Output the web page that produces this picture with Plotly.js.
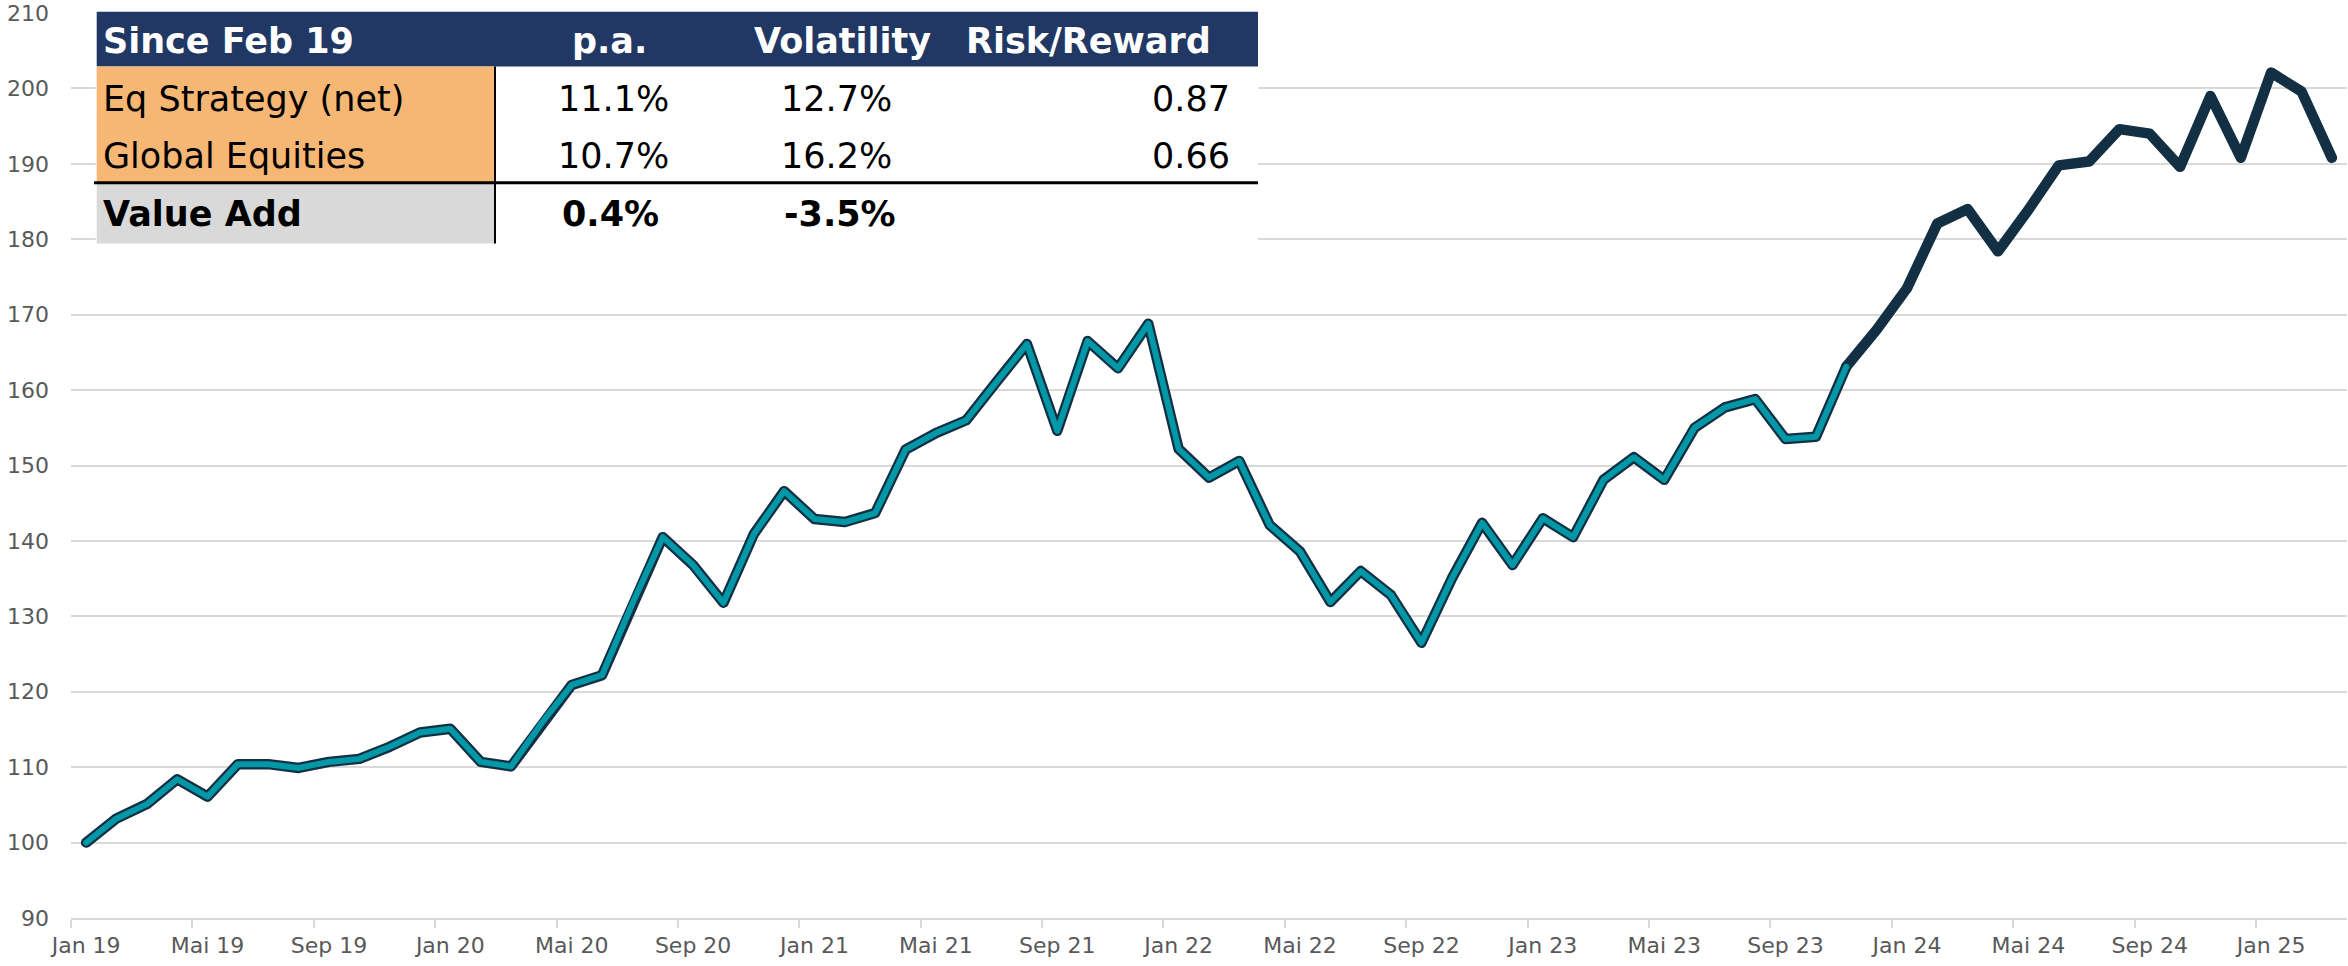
<!DOCTYPE html>
<html>
<head>
<meta charset="utf-8">
<script src="https://cdn.plot.ly/plotly-3.0.1.min.js"></script>
<style>
  html, body { margin: 0; padding: 0; background: #ffffff; }
  #chart { width: 2348px; height: 966px; }
</style>
</head>
<body>
<div id="chart"></div>
<script>
// ---------------- DATA ----------------
const monthNames = ['Jan','Feb','Mär','Apr','Mai','Jun','Jul','Aug','Sep','Okt','Nov','Dez'];
const startYear = 2019;
// Monthly index level, Jan 19 = 100 ... Mar 25
const indexValues = [
  100.0, 103.2, 105.1, 108.4, 106.1, 110.4, 110.4, 109.9, 110.7, 111.1, 112.7, 114.6,
  115.1, 110.7, 110.1, 115.8, 120.9, 122.2, 131.7, 140.5, 136.8, 131.8, 140.9, 146.6,
  142.9, 142.5, 143.7, 152.1, 154.3, 156.0, 161.1, 166.1, 154.6, 166.5, 162.9, 168.8,
  152.2, 148.4, 150.6, 142.1, 138.6, 131.9, 136.0, 132.8, 126.5, 135.0, 142.4, 136.8,
  143.0, 140.5, 148.1, 151.1, 148.1, 155.0, 157.7, 158.8, 153.5, 153.8, 163.1, 168.0,
  173.5, 182.1, 184.0, 178.4, 183.9, 189.8, 190.3, 194.6, 194.0, 189.6, 199.0, 190.8,
  202.1, 199.6, 190.8
];
const liveStartIndex = 58; // from here the line is drawn in dark navy

// Table contents
const tableHeader = ['Since Feb 19', 'p.a.', 'Volatility', 'Risk/Reward'];
const rowLabels = ['Eq Strategy (net)', 'Global Equities'];
const paValues = ['11.1%', '10.7%'];
const volValues = ['12.7%', '16.2%'];
const rrValues = ['0.87', '0.66'];
const valueAddLabel = 'Value Add';
const valueAddValues = ['0.4%', '-3.5%'];

// ---------------- BUILD ----------------
const months = indexValues.map((_, i) => {
  const m = i % 12;
  const y = startYear + Math.floor(i / 12);
  return monthNames[m] + ' ' + String(y % 100).padStart(2, '0');
});

const W = 2348, H = 966;
const M = { l: 71, r: 1, t: 13, b: 48 };
const PW = W - M.l - M.r, PH = H - M.t - M.b;
const px = v => (v - M.l) / PW;        // pixel x -> paper x
const py = v => 1 - (v - M.t) / PH;    // pixel y -> paper y

const NAVY = '#132f43';
const TEAL = '#0097a6';

const traces = [
  { // dark outline of the back-tested part
    x: months.slice(0, liveStartIndex + 1),
    y: indexValues.slice(0, liveStartIndex + 1),
    type: 'scatter', mode: 'lines',
    line: { color: NAVY, width: 10.5 },
    hoverinfo: 'skip', showlegend: false
  },
  { // dark live part
    x: months.slice(liveStartIndex),
    y: indexValues.slice(liveStartIndex),
    type: 'scatter', mode: 'lines',
    line: { color: NAVY, width: 10.5 },
    hoverinfo: 'skip', showlegend: false
  },
  { // teal inner line
    x: months.slice(0, liveStartIndex + 1),
    y: indexValues.slice(0, liveStartIndex + 1),
    type: 'scatter', mode: 'lines',
    line: { color: TEAL, width: 6 },
    hoverinfo: 'skip', showlegend: false
  }
];

// Table geometry (pixels)
const T = { left: 96.7, right: 1258, top: 11.7, headBottom: 66.5, sep: 182.7, bottom: 243.5, colLine: 495 };
const rowY = [40.8, 99.3, 156, 213.5];
const colPA = 611, colVol = 838, colRR = 1232;

const shapes = [
  { type: 'rect', xref: 'paper', yref: 'paper', x0: px(T.left - 1), x1: px(T.right), y0: py(T.top), y1: py(T.bottom + 2),
    fillcolor: '#ffffff', line: { width: 0 }, layer: 'above' },
  { type: 'rect', xref: 'paper', yref: 'paper', x0: px(T.left), x1: px(T.right), y0: py(T.top), y1: py(T.headBottom),
    fillcolor: '#213864', line: { width: 0 }, layer: 'above' },
  { type: 'rect', xref: 'paper', yref: 'paper', x0: px(T.left), x1: px(T.colLine), y0: py(T.headBottom), y1: py(T.sep),
    fillcolor: '#f7b774', line: { width: 0 }, layer: 'above' },
  { type: 'rect', xref: 'paper', yref: 'paper', x0: px(T.left), x1: px(T.colLine), y0: py(T.sep), y1: py(T.bottom),
    fillcolor: '#d9d9d9', line: { width: 0 }, layer: 'above' },
  { type: 'line', xref: 'paper', yref: 'paper', x0: px(T.colLine), x1: px(T.colLine), y0: py(T.headBottom), y1: py(T.bottom),
    line: { color: '#000000', width: 2 }, layer: 'above' },
  { type: 'line', xref: 'paper', yref: 'paper', x0: px(94), x1: px(T.right), y0: py(T.sep), y1: py(T.sep),
    line: { color: '#000000', width: 3 }, layer: 'above' }
];

const FONT = 'DejaVu Sans, Arial, sans-serif';
const ann = (text, x, y, anchor, opts = {}) => Object.assign({
  text, xref: 'paper', yref: 'paper', x: px(x), y: py(y), xanchor: anchor, yanchor: 'middle',
  showarrow: false, font: { family: FONT, size: 35, color: '#000000' }
}, opts);
const bold = t => '<b>' + t + '</b>';
const white = { font: { family: FONT, size: 35, color: '#ffffff' } };

const annotations = [
  ann(bold(tableHeader[0]), 101, rowY[0], 'left', white),
  ann(bold(tableHeader[1]), 609, rowY[0], 'center', white),
  ann(bold(tableHeader[2]), 842, rowY[0], 'center', white),
  ann(bold(tableHeader[3]), 1088, rowY[0], 'center', white)
];
rowLabels.forEach((lab, r) => {
  annotations.push(ann(lab, 101, rowY[r + 1], 'left'));
  annotations.push(ann(paValues[r], colPA + 2, rowY[r + 1], 'center'));
  annotations.push(ann(volValues[r], colVol - 2, rowY[r + 1], 'center'));
  annotations.push(ann(rrValues[r], colRR, rowY[r + 1], 'right'));
});
annotations.push(ann(bold(valueAddLabel), 101, rowY[3], 'left'));
annotations.push(ann(bold(valueAddValues[0]), colPA - 1, rowY[3], 'center'));
annotations.push(ann(bold(valueAddValues[1]), colVol + 2, rowY[3], 'center'));

const layout = {
  width: W, height: H,
  margin: M,
  paper_bgcolor: '#ffffff', plot_bgcolor: '#ffffff',
  showlegend: false,
  hovermode: false,
  font: { family: FONT, color: '#595959', size: 22 },
  xaxis: {
    type: 'category',
    categoryorder: 'array', categoryarray: months,
    range: [-0.5, months.length - 0.5],
    tickmode: 'linear', tick0: 0, dtick: 4,
    tickson: 'boundaries',
    tickangle: 0,
    ticks: 'outside', ticklen: 8, tickwidth: 2, tickcolor: '#d9d9d9',
    showgrid: false, zeroline: false,
    showline: true, linecolor: '#d9d9d9', linewidth: 2,
    tickfont: { family: FONT, size: 22, color: '#595959' },
    ticklabelstandoff: 7,
    automargin: false,
    fixedrange: true
  },
  yaxis: {
    range: [90, 210],
    tickmode: 'linear', tick0: 90, dtick: 10,
    showgrid: true, gridcolor: '#d9d9d9', gridwidth: 2,
    zeroline: false, showline: false, ticks: '',
    tickfont: { family: FONT, size: 22, color: '#595959' },
    ticklabelstandoff: 21,
    automargin: false,
    fixedrange: true
  },
  shapes, annotations
};

Plotly.newPlot('chart', traces, layout, { staticPlot: true, displayModeBar: false }).then(() => {
  document.querySelectorAll('.scatterlayer path.js-line').forEach(p => {
    p.style.strokeLinejoin = 'round';
    p.style.strokeLinecap = 'round';
  });
});
</script>
</body>
</html>
